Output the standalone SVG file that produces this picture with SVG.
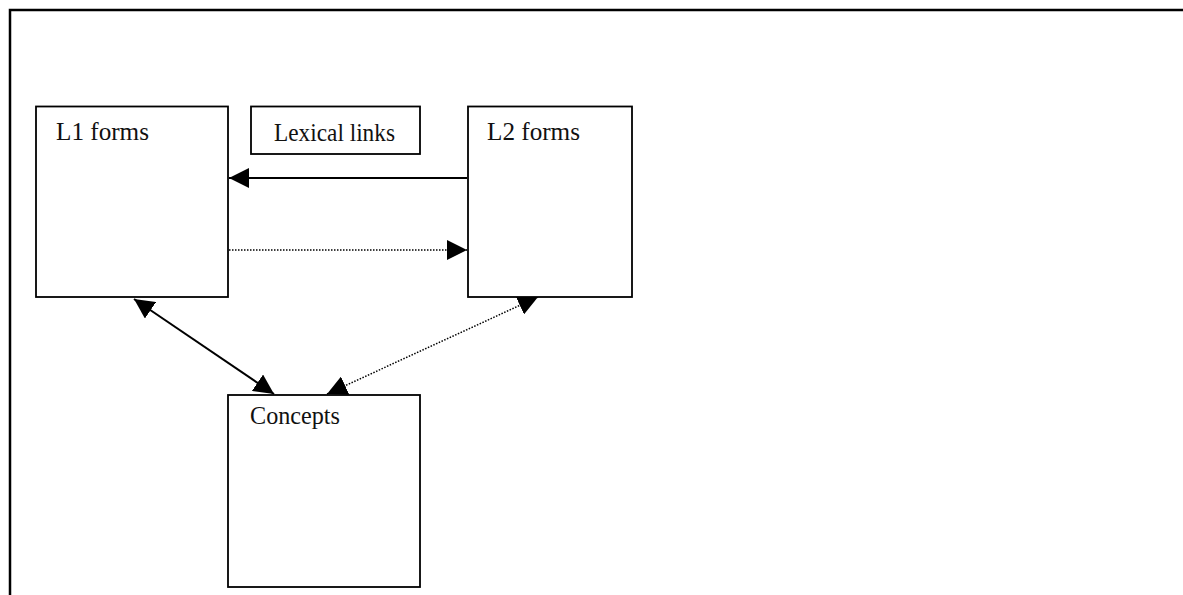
<svg xmlns="http://www.w3.org/2000/svg" width="1183" height="595" viewBox="0 0 1183 595">
<style>
.box{fill:#fff;stroke:#000;stroke-width:1.8}
.lbl{font-family:"Liberation Serif",serif;font-size:24.5px;fill:#111}
.solid{stroke:#000;stroke-width:2;fill:none}
.dot{stroke:#000;stroke-width:1.5;fill:none;stroke-dasharray:1.5 1.5}
</style>
<defs>
<marker id="ah" markerUnits="userSpaceOnUse" markerWidth="20" markerHeight="20" refX="20" refY="10" orient="auto-start-reverse" viewBox="0 0 20 20">
<path d="M0,0 L20,10 L0,20 z" fill="#000"/>
</marker>
</defs>
<rect width="1183" height="595" fill="#fff"/>
<path d="M10,595 V10 H1183" fill="none" stroke="#000" stroke-width="2.5"/>
<g id="connectors">
<line class="solid" x1="467" y1="178" x2="229" y2="178" marker-end="url(#ah)"/>
<line class="dot" x1="229" y1="250" x2="467" y2="250" marker-end="url(#ah)"/>
<line class="solid" x1="134" y1="299" x2="274" y2="394" marker-start="url(#ah)" marker-end="url(#ah)"/>
<line class="dot" x1="327" y1="394" x2="538" y2="297" marker-start="url(#ah)" marker-end="url(#ah)"/>
</g>
<g id="l1">
<rect class="box" x="36" y="106.5" width="192" height="190.5"/>
<text class="lbl" x="56" y="140" textLength="93" lengthAdjust="spacingAndGlyphs">L1 forms</text>
</g>
<g id="lexical">
<rect class="box" x="251" y="106.5" width="169" height="47.5"/>
<text class="lbl" x="274" y="141" textLength="121" lengthAdjust="spacingAndGlyphs">Lexical links</text>
</g>
<g id="l2">
<rect class="box" x="468" y="106.5" width="164" height="190.5"/>
<text class="lbl" x="487" y="140" textLength="93" lengthAdjust="spacingAndGlyphs">L2 forms</text>
</g>
<g id="concepts">
<rect class="box" x="228" y="395" width="192" height="192"/>
<text class="lbl" x="250" y="424" textLength="90" lengthAdjust="spacingAndGlyphs">Concepts</text>
</g>
</svg>
